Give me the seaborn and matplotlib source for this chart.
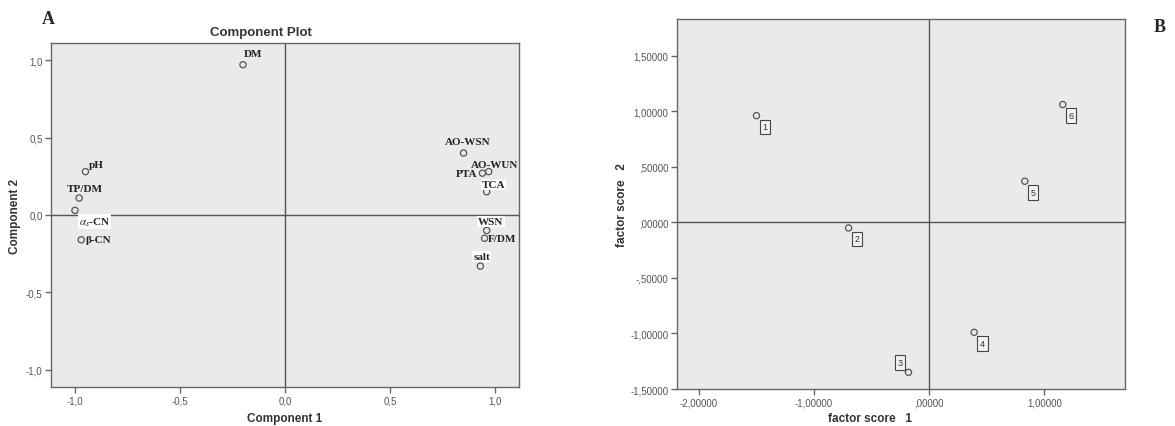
import numpy as np
import pandas as pd
import matplotlib
matplotlib.use("Agg")
import matplotlib.pyplot as plt
import seaborn as sns

# panel A: component loadings
var_names = ["DM", "pH", "TP/DM", r"$\alpha_{s}$-CN", "β-CN", "AO-WSN",
             "AO-WUN", "PTA", "TCA", "WSN", "F/DM", "salt"]
comp1 = [-0.20, -0.95, -0.98, -1.00, -0.97, 0.85, 0.97, 0.94, 0.96, 0.96, 0.95, 0.93]
comp2 = [0.97, 0.28, 0.11, 0.03, -0.16, 0.40, 0.28, 0.27, 0.15, -0.10, -0.15, -0.33]
ticks_a = [-1.0, -0.5, 0.0, 0.5, 1.0]
ticklabels_a = ["-1,0", "-0,5", "0,0", "0,5", "1,0"]

# panel B: factor scores of the samples
sample_ids = ["1", "2", "3", "4", "5", "6"]
score1 = [-1.50, -0.70, -0.18, 0.39, 0.83, 1.16]
score2 = [0.96, -0.05, -1.35, -0.99, 0.37, 1.06]
xticks_b = [-2.0, -1.0, 0.0, 1.0]
xticklabels_b = ["-2,00000", "-1,00000", ",00000", "1,00000"]
yticks_b = [-1.5, -1.0, -0.5, 0.0, 0.5, 1.0, 1.5]
yticklabels_b = ["-1,50000", "-1,00000", "-,50000", ",00000", ",50000", "1,00000", "1,50000"]

df_a = pd.DataFrame({"c1": comp1, "c2": comp2, "name": var_names})
df_b = pd.DataFrame({"f1": score1, "f2": score2, "id": sample_ids})

sns.set_style("white")
plt.rcParams["font.family"] = ["Liberation Sans", "DejaVu Sans"]
plt.rcParams["mathtext.fontset"] = "stix"

bg = "#eaeaea"
edge = "#666666"
tick_col = "#555555"

fig = plt.figure(figsize=(11.75, 4.27), dpi=100)
axA = fig.add_axes([51/1175, 1-388/427, 468/1175, 344/427])
axB = fig.add_axes([677/1175, 1-390/427, 448/1175, 370/427])


def style_axes(ax):
    ax.set_facecolor(bg)
    for s in ax.spines.values():
        s.set_color(edge)
        s.set_linewidth(1.0)
    ax.tick_params(axis="both", direction="out", length=4, width=1, color=edge,
                   labelsize=7, labelcolor=tick_col, bottom=True, left=True,
                   top=False, right=False, pad=2)
    ax.axhline(0, color="#555555", lw=1, zorder=1)
    ax.axvline(0, color="#555555", lw=1, zorder=1)


# ---- A ----
style_axes(axA)
sns.scatterplot(data=df_a, x="c1", y="c2", ax=axA, marker="o", s=20,
                facecolor="none", edgecolor="#555555", linewidth=0.9, zorder=3)
axA.set_xlim(-1.114, 1.114)
axA.set_ylim(-1.11, 1.11)
axA.set_xticks(ticks_a, ticklabels_a)
axA.set_yticks(ticks_a, ticklabels_a)
axA.set_xlabel("Component 1", fontsize=8.5, fontweight="bold", color="#333333")
axA.set_ylabel("Component 2", fontsize=8.5, fontweight="bold", color="#333333")
axA.xaxis.set_label_coords(0.5, -0.072)
axA.yaxis.set_label_coords(-0.064, 0.5)

# label offsets (points) and alignment per variable
lab_style = {
    "DM": (7, 8, "center"),
    "pH": (8, 5, "center"),
    "TP/DM": (4, 7, "center"),
    r"$\alpha_{s}$-CN": (3, -8, "left"),
    "β-CN": (3, 0, "left"),
    "AO-WSN": (3, 8, "center"),
    "AO-WUN": (4, 5, "center"),
    "PTA": (-3.5, 0, "right"),
    "TCA": (5, 5, "center"),
    "WSN": (3, 6.5, "center"),
    "F/DM": (2.5, 0, "left"),
    "salt": (1, 7, "center"),
}
white_box = {"WSN", "TCA", "salt", r"$\alpha_{s}$-CN"}
for x, y, name in zip(df_a["c1"], df_a["c2"], df_a["name"]):
    dx, dy, ha = lab_style[name]
    bbox = dict(boxstyle="square,pad=0.1", fc="white", ec="none") if name in white_box else None
    axA.annotate(name, (x, y), xytext=(dx, dy), textcoords="offset points",
                 ha=ha, va="center", fontsize=8, fontweight="bold",
                 family=["Liberation Serif", "DejaVu Serif"], color="#222222",
                 bbox=bbox, zorder=4)

fig.text(261/1175, 1-33/427, "Component Plot", ha="center", va="center",
         fontsize=9.5, fontweight="bold", color="#333333")
fig.text(48/1175, 1-20/427, "A", ha="center", va="center", fontsize=13,
         fontweight="bold", family=["Liberation Serif"])

# ---- B ----
style_axes(axB)
sns.scatterplot(data=df_b, x="f1", y="f2", ax=axB, marker="o", s=20,
                facecolor="none", edgecolor="#555555", linewidth=0.9, zorder=3)
axB.set_xlim(-2.19, 1.70)
axB.set_ylim(-1.50, 1.83)
axB.set_xticks(xticks_b, xticklabels_b)
axB.set_yticks(yticks_b, yticklabels_b)
axB.set_xlabel("factor score   1", fontsize=8.5, fontweight="bold", color="#333333")
axB.set_ylabel("factor score   2", fontsize=8.5, fontweight="bold", color="#333333")
axB.xaxis.set_label_coords(0.43, -0.062)
axB.yaxis.set_label_coords(-0.109, 0.5)

for x, y, sid in zip(df_b["f1"], df_b["f2"], df_b["id"]):
    if sid == "3":
        dx, dy = -6, 7
    else:
        dx, dy = 6, -8
    axB.annotate(sid, (x, y), xytext=(dx, dy), textcoords="offset points",
                 ha="center", va="center", fontsize=6.5, color="#333333",
                 bbox=dict(boxstyle="square,pad=0.3", fc="#f2f2f2", ec="#444444", lw=0.8),
                 zorder=4)

fig.text(1160/1175, 1-27/427, "B", ha="center", va="center", fontsize=13,
         fontweight="bold", family=["Liberation Serif"])

fig.savefig("out.png", dpi=100)
